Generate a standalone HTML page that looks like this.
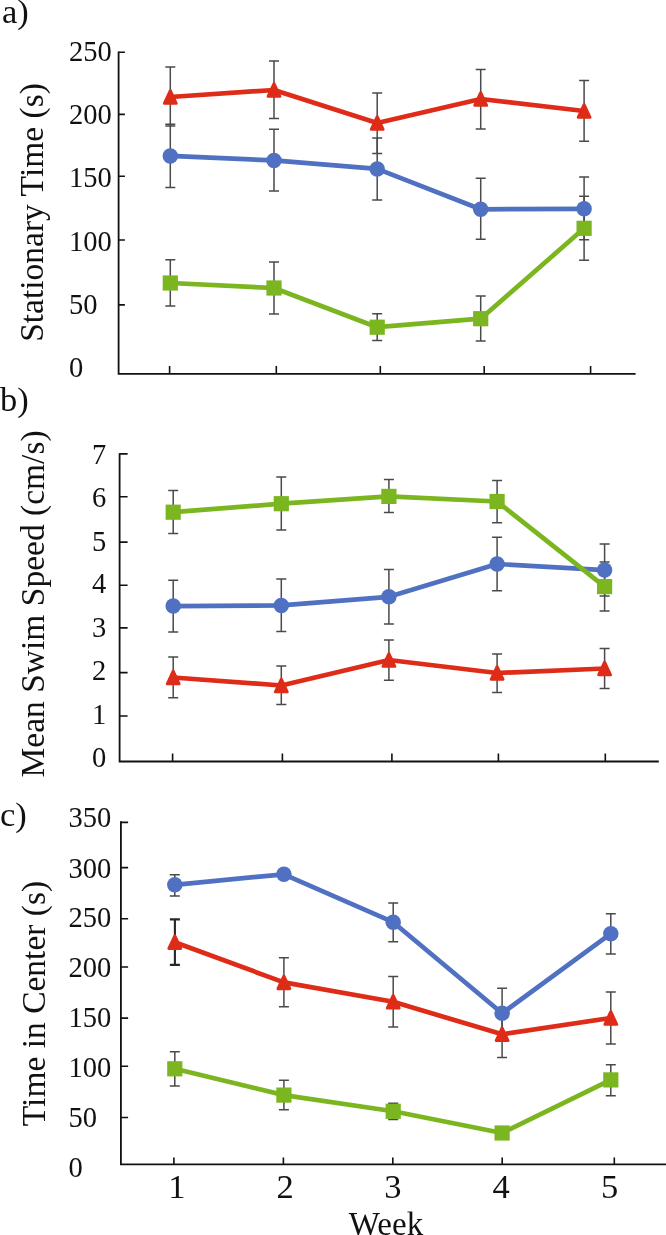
<!DOCTYPE html>
<html><head><meta charset="utf-8"><style>
html,body{margin:0;padding:0;background:#fff;width:666px;height:1235px;overflow:hidden}
svg{display:block;will-change:transform;font-family:"Liberation Serif",serif}
</style></head><body>
<svg width="666" height="1235" viewBox="0 0 666 1235" fill="#111">
<text x="2" y="22.9" font-size="34.5" text-anchor="start" >a)</text>
<text transform="translate(43.2 212.5) rotate(-90)" x="0" y="0" font-size="33.5" text-anchor="middle">Stationary Time (s)</text>
<text x="69" y="61" font-size="28.5" text-anchor="start" >250</text>
<text x="69" y="124.2" font-size="28.5" text-anchor="start" >200</text>
<text x="69" y="186.7" font-size="28.5" text-anchor="start" >150</text>
<text x="69" y="251" font-size="28.5" text-anchor="start" >100</text>
<text x="69" y="314.3" font-size="28.5" text-anchor="start" >50</text>
<text x="69" y="376.9" font-size="28.5" text-anchor="start" >0</text>
<path d="M118.6 51.5V373.9H635.6" fill="none" stroke="#111111" stroke-width="1.8"/>
<path d="M118.6 52.3h6.3M118.6 114.4h6.3M118.6 176.2h6.3M118.6 240h6.3M118.6 304.9h6.3M169.6 373.9v-8M276.3 373.9v-8M380.3 373.9v-8M484.2 373.9v-8M590.6 373.9v-8" fill="none" stroke="#111111" stroke-width="1.6"/>
<path d="M170.3 67V126M165.3 67h10M165.3 126h10M274 60.9V118.4M269 60.9h10M269 118.4h10M377.2 92.9V153.6M372.2 92.9h10M372.2 153.6h10M480.7 69.5V129M475.7 69.5h10M475.7 129h10M584.1 80.4V141.2M579.1 80.4h10M579.1 141.2h10" fill="none" stroke="#4a4a4a" stroke-width="1.5"/>
<path d="M170.3 124.2V187.6M165.3 124.2h10M165.3 187.6h10M274 129.3V191M269 129.3h10M269 191h10M377.2 138.1V200.1M372.2 138.1h10M372.2 200.1h10M480.7 178.2V239.2M475.7 178.2h10M475.7 239.2h10M584.1 177V239.8M579.1 177h10M579.1 239.8h10" fill="none" stroke="#4a4a4a" stroke-width="1.5"/>
<path d="M170.3 259.7V306.1M165.3 259.7h10M165.3 306.1h10M274 262V314M269 262h10M269 314h10M377.2 313.8V340.6M372.2 313.8h10M372.2 340.6h10M480.7 296V341M475.7 296h10M475.7 341h10M584.1 196.3V260.2M579.1 196.3h10M579.1 260.2h10" fill="none" stroke="#4a4a4a" stroke-width="1.5"/>
<polyline points="170.3,155.9 274,160.4 377.2,168.9 480.7,209.3 584.1,208.8" fill="none" stroke="#5071C2" stroke-width="4.7" stroke-linejoin="round"/>
<circle cx="170.3" cy="155.9" r="7.75" fill="#5071C2"/>
<circle cx="274" cy="160.4" r="7.75" fill="#5071C2"/>
<circle cx="377.2" cy="168.9" r="7.75" fill="#5071C2"/>
<circle cx="480.7" cy="209.3" r="7.75" fill="#5071C2"/>
<circle cx="584.1" cy="208.8" r="7.75" fill="#5071C2"/>
<polyline points="170.3,97 274,90 377.2,123 480.7,99 584.1,111" fill="none" stroke="#DE2C18" stroke-width="4.7" stroke-linejoin="round"/>
<path d="M170.3 90.7L176.2 103.3H164.4Z" fill="#DE2C18" stroke="#DE2C18" stroke-width="3" stroke-linejoin="round"/>
<path d="M274 83.7L279.9 96.3H268.1Z" fill="#DE2C18" stroke="#DE2C18" stroke-width="3" stroke-linejoin="round"/>
<path d="M377.2 116.7L383.1 129.3H371.3Z" fill="#DE2C18" stroke="#DE2C18" stroke-width="3" stroke-linejoin="round"/>
<path d="M480.7 92.7L486.6 105.3H474.8Z" fill="#DE2C18" stroke="#DE2C18" stroke-width="3" stroke-linejoin="round"/>
<path d="M584.1 104.7L590 117.3H578.2Z" fill="#DE2C18" stroke="#DE2C18" stroke-width="3" stroke-linejoin="round"/>
<polyline points="170.3,283 274,288 377.2,327.2 480.7,318.7 584.1,228.3" fill="none" stroke="#7BB621" stroke-width="4.7" stroke-linejoin="round"/>
<rect x="162.7" y="275.4" width="15.2" height="15.2" fill="#7BB621"/>
<rect x="266.4" y="280.4" width="15.2" height="15.2" fill="#7BB621"/>
<rect x="369.6" y="319.6" width="15.2" height="15.2" fill="#7BB621"/>
<rect x="473.1" y="311.1" width="15.2" height="15.2" fill="#7BB621"/>
<rect x="576.5" y="220.7" width="15.2" height="15.2" fill="#7BB621"/>
<text x="0" y="410.5" font-size="34.5" text-anchor="start" >b)</text>
<text transform="translate(43.8 603.9) rotate(-90)" x="0" y="0" font-size="33.5" text-anchor="middle">Mean Swim Speed (cm/s)</text>
<text x="92" y="463.8" font-size="28.5" text-anchor="start" >7</text>
<text x="92" y="507" font-size="28.5" text-anchor="start" >6</text>
<text x="92" y="550.5" font-size="28.5" text-anchor="start" >5</text>
<text x="92" y="593.2" font-size="28.5" text-anchor="start" >4</text>
<text x="92" y="636.8" font-size="28.5" text-anchor="start" >3</text>
<text x="92" y="680.4" font-size="28.5" text-anchor="start" >2</text>
<text x="92" y="724" font-size="28.5" text-anchor="start" >1</text>
<text x="92" y="767.3" font-size="28.5" text-anchor="start" >0</text>
<path d="M119.6 453.2V761.5H658.8" fill="none" stroke="#111111" stroke-width="1.8"/>
<path d="M119.6 453.9h8M119.6 496.7h8M119.6 542.1h8M119.6 585.3h8M119.6 627.9h8M119.6 672.6h8M119.6 716h8M172.6 761.5v-8M282.4 761.5v-8M391.9 761.5v-8M498.4 761.5v-8M605.3 761.5v-8" fill="none" stroke="#111111" stroke-width="1.6"/>
<path d="M173.2 580.3V632.1M168.2 580.3h10M168.2 632.1h10M281.3 579.1V631.4M276.3 579.1h10M276.3 631.4h10M388.9 569.4V624.1M383.9 569.4h10M383.9 624.1h10M497.1 537.3V590.8M492.1 537.3h10M492.1 590.8h10M604.6 544.1V596.1M599.6 544.1h10M599.6 596.1h10" fill="none" stroke="#4a4a4a" stroke-width="1.5"/>
<path d="M173.2 657.1V697.8M168.2 657.1h10M168.2 697.8h10M281.3 666.1V704.6M276.3 666.1h10M276.3 704.6h10M388.9 639.9V680.2M383.9 639.9h10M383.9 680.2h10M497.1 654V692.4M492.1 654h10M492.1 692.4h10M604.6 648.4V688.5M599.6 648.4h10M599.6 688.5h10" fill="none" stroke="#4a4a4a" stroke-width="1.5"/>
<path d="M173.2 490.6V533.6M168.2 490.6h10M168.2 533.6h10M281.3 477V530M276.3 477h10M276.3 530h10M388.9 479.4V512.5M383.9 479.4h10M383.9 512.5h10M497.1 480.6V522.7M492.1 480.6h10M492.1 522.7h10M604.6 562.1V611M599.6 562.1h10M599.6 611h10" fill="none" stroke="#4a4a4a" stroke-width="1.5"/>
<polyline points="173.2,606.1 281.3,605.4 388.9,596.8 497.1,564 604.6,570.1" fill="none" stroke="#5071C2" stroke-width="4.7" stroke-linejoin="round"/>
<circle cx="173.2" cy="606.1" r="7.75" fill="#5071C2"/>
<circle cx="281.3" cy="605.4" r="7.75" fill="#5071C2"/>
<circle cx="388.9" cy="596.8" r="7.75" fill="#5071C2"/>
<circle cx="497.1" cy="564" r="7.75" fill="#5071C2"/>
<circle cx="604.6" cy="570.1" r="7.75" fill="#5071C2"/>
<polyline points="173.2,677.5 281.3,685.5 388.9,660 497.1,673 604.6,668.5" fill="none" stroke="#DE2C18" stroke-width="4.7" stroke-linejoin="round"/>
<path d="M173.2 671.2L179.1 683.8H167.3Z" fill="#DE2C18" stroke="#DE2C18" stroke-width="3" stroke-linejoin="round"/>
<path d="M281.3 679.2L287.2 691.8H275.4Z" fill="#DE2C18" stroke="#DE2C18" stroke-width="3" stroke-linejoin="round"/>
<path d="M388.9 653.7L394.8 666.3H383Z" fill="#DE2C18" stroke="#DE2C18" stroke-width="3" stroke-linejoin="round"/>
<path d="M497.1 666.7L503 679.3H491.2Z" fill="#DE2C18" stroke="#DE2C18" stroke-width="3" stroke-linejoin="round"/>
<path d="M604.6 662.2L610.5 674.8H598.7Z" fill="#DE2C18" stroke="#DE2C18" stroke-width="3" stroke-linejoin="round"/>
<polyline points="173.2,512.2 281.3,503.7 388.9,496.4 497.1,501.5 604.6,586.6" fill="none" stroke="#7BB621" stroke-width="4.7" stroke-linejoin="round"/>
<rect x="165.6" y="504.6" width="15.2" height="15.2" fill="#7BB621"/>
<rect x="273.7" y="496.1" width="15.2" height="15.2" fill="#7BB621"/>
<rect x="381.3" y="488.8" width="15.2" height="15.2" fill="#7BB621"/>
<rect x="489.5" y="493.9" width="15.2" height="15.2" fill="#7BB621"/>
<rect x="597" y="579" width="15.2" height="15.2" fill="#7BB621"/>
<text x="0" y="825.5" font-size="34.5" text-anchor="start" >c)</text>
<text transform="translate(45 1003.5) rotate(-90)" x="0" y="0" font-size="33.5" text-anchor="middle">Time in Center (s)</text>
<text x="68.5" y="827.4" font-size="28.5" text-anchor="start" >350</text>
<text x="68.5" y="877.6" font-size="28.5" text-anchor="start" >300</text>
<text x="68.5" y="926.8" font-size="28.5" text-anchor="start" >250</text>
<text x="68.5" y="977.4" font-size="28.5" text-anchor="start" >200</text>
<text x="68.5" y="1027.2" font-size="28.5" text-anchor="start" >150</text>
<text x="68.5" y="1076.5" font-size="28.5" text-anchor="start" >100</text>
<text x="68.5" y="1127.1" font-size="28.5" text-anchor="start" >50</text>
<text x="68.5" y="1176.7" font-size="28.5" text-anchor="start" >0</text>
<path d="M120.9 821.3V1164.3H666" fill="none" stroke="#111111" stroke-width="1.8"/>
<path d="M120.9 822.4h7.2M120.9 867.6h7.2M120.9 918.7h7.2M120.9 967h7.2M120.9 1018.1h7.2M120.9 1066.3h7.2M120.9 1117.5h7.2M173.9 1164.3v-6.8M283.4 1164.3v-6.8M392.8 1164.3v-6.8M502.2 1164.3v-6.8M614.3 1164.3v-6.8" fill="none" stroke="#111111" stroke-width="1.6"/>
<path d="M174.8 874.8V895.9M169.8 874.8h10M169.8 895.9h10M393.2 903V941.7M388.2 903h10M388.2 941.7h10M502.1 988.3V1038.3M497.1 988.3h10M497.1 1038.3h10M610.8 913.7V954.1M605.8 913.7h10M605.8 954.1h10" fill="none" stroke="#4a4a4a" stroke-width="1.5"/>
<path d="M283.9 957.7V1006.8M278.9 957.7h10M278.9 1006.8h10M393.2 976.4V1027M388.2 976.4h10M388.2 1027h10M502.1 1011V1057.6M497.1 1011h10M497.1 1057.6h10M610.8 992V1044.1M605.8 992h10M605.8 1044.1h10" fill="none" stroke="#4a4a4a" stroke-width="1.5"/>
<path d="M174.9 919.4V964.9M169.9 919.4h10M169.9 964.9h10" fill="none" stroke="#262626" stroke-width="2.1"/>
<path d="M174.8 1051.8V1085.9M169.8 1051.8h10M169.8 1085.9h10M283.9 1080.3V1109.7M278.9 1080.3h10M278.9 1109.7h10M393.2 1103.2V1119.4M388.2 1103.2h10M388.2 1119.4h10M610.8 1064.8V1095.8M605.8 1064.8h10M605.8 1095.8h10" fill="none" stroke="#4a4a4a" stroke-width="1.5"/>
<polyline points="174.8,884.8 283.9,874.3 393.2,922.2 502.1,1013.3 610.8,933.7" fill="none" stroke="#5071C2" stroke-width="4.7" stroke-linejoin="round"/>
<circle cx="174.8" cy="884.8" r="7.75" fill="#5071C2"/>
<circle cx="283.9" cy="874.3" r="7.75" fill="#5071C2"/>
<circle cx="393.2" cy="922.2" r="7.75" fill="#5071C2"/>
<circle cx="502.1" cy="1013.3" r="7.75" fill="#5071C2"/>
<circle cx="610.8" cy="933.7" r="7.75" fill="#5071C2"/>
<polyline points="174.8,942.2 283.9,982.4 393.2,1001.8 502.1,1034.3 610.8,1018" fill="none" stroke="#DE2C18" stroke-width="4.7" stroke-linejoin="round"/>
<path d="M174.8 935.9L180.7 948.5H168.9Z" fill="#DE2C18" stroke="#DE2C18" stroke-width="3" stroke-linejoin="round"/>
<path d="M283.9 976.1L289.8 988.7H278Z" fill="#DE2C18" stroke="#DE2C18" stroke-width="3" stroke-linejoin="round"/>
<path d="M393.2 995.5L399.1 1008.1H387.3Z" fill="#DE2C18" stroke="#DE2C18" stroke-width="3" stroke-linejoin="round"/>
<path d="M502.1 1028L508 1040.6H496.2Z" fill="#DE2C18" stroke="#DE2C18" stroke-width="3" stroke-linejoin="round"/>
<path d="M610.8 1011.7L616.7 1024.3H604.9Z" fill="#DE2C18" stroke="#DE2C18" stroke-width="3" stroke-linejoin="round"/>
<polyline points="174.8,1068.8 283.9,1095.1 393.2,1111.3 502.1,1133 610.8,1079.9" fill="none" stroke="#7BB621" stroke-width="4.7" stroke-linejoin="round"/>
<rect x="167.2" y="1061.2" width="15.2" height="15.2" fill="#7BB621"/>
<rect x="276.3" y="1087.5" width="15.2" height="15.2" fill="#7BB621"/>
<rect x="385.6" y="1103.7" width="15.2" height="15.2" fill="#7BB621"/>
<rect x="494.5" y="1125.4" width="15.2" height="15.2" fill="#7BB621"/>
<rect x="603.2" y="1072.3" width="15.2" height="15.2" fill="#7BB621"/>
<text x="176.8" y="1198.3" font-size="34.5" text-anchor="middle" >1</text>
<text x="285" y="1198.3" font-size="34.5" text-anchor="middle" >2</text>
<text x="392.9" y="1198.3" font-size="34.5" text-anchor="middle" >3</text>
<text x="501" y="1198.3" font-size="34.5" text-anchor="middle" >4</text>
<text x="609.7" y="1198.3" font-size="34.5" text-anchor="middle" >5</text>
<text x="386" y="1235" font-size="33" text-anchor="middle" >Week</text>
</svg></body></html>
